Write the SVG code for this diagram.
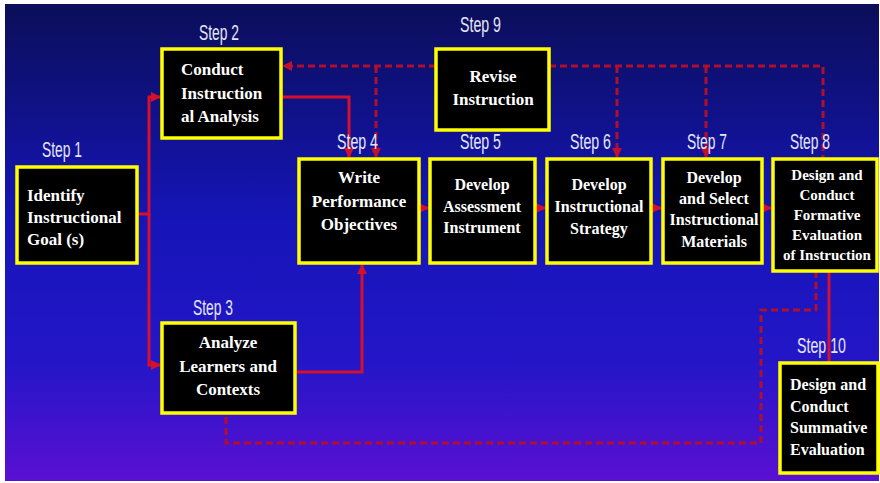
<svg xmlns="http://www.w3.org/2000/svg" width="880" height="483" viewBox="0 0 880 483">
<defs>
<linearGradient id="bg" x1="0" y1="0" x2="0" y2="1">
<stop offset="0" stop-color="#0b0e58"/>
<stop offset="0.45" stop-color="#1515b8"/>
<stop offset="0.75" stop-color="#2416c8"/>
<stop offset="1" stop-color="#5a10d2"/>
</linearGradient>
<marker id="ah" viewBox="0 0 10 10" refX="9" refY="5" markerWidth="10" markerHeight="10" markerUnits="userSpaceOnUse" orient="auto">
<path d="M0,0 L10,5 L0,10 z" fill="#d4102c"/>
</marker>
<marker id="ahd" viewBox="0 0 10 10" refX="9" refY="5" markerWidth="10" markerHeight="10" markerUnits="userSpaceOnUse" orient="auto">
<path d="M0,0 L10,5 L0,10 z" fill="#c0102c"/>
</marker>
</defs>
<style>
.box{fill:#000;stroke:#ffff00;stroke-width:3.5}
.t{fill:#fff;font-family:"Liberation Serif","Times New Roman",serif;font-weight:bold}
.c{text-anchor:middle}
.lbl{fill:#e4e6f6;font-family:"Liberation Sans",Arial,sans-serif;font-size:22px}
.s{fill:none;stroke:#d4102c;stroke-width:3}
.d{fill:none;stroke:#b00f2c;stroke-width:3;stroke-dasharray:7 4}
</style>
<rect x="0" y="0" width="880" height="483" fill="#fff"/>
<rect x="5" y="4" width="874" height="477" fill="url(#bg)"/>

<g id="connectors">
<path class="s" d="M137,214 H149 V97 H160" marker-end="url(#ah)"/>
<path class="s" d="M149,214 V365 H160" marker-end="url(#ah)"/>
<path class="s" d="M281,97 H349 V157" marker-end="url(#ah)"/>
<path class="s" d="M295,372 H362 V265" marker-end="url(#ah)"/>
<path class="s" d="M419,208 H428" marker-end="url(#ah)"/>
<path class="s" d="M535,208 H545" marker-end="url(#ah)"/>
<path class="s" d="M652,208 H661" marker-end="url(#ah)"/>
<path class="s" d="M762,208 H771" marker-end="url(#ah)"/>
<path class="s" d="M829,271 V363"/>
<path class="d" d="M436,66 H283" marker-end="url(#ahd)"/>
<path class="d" d="M376,66 V157" marker-end="url(#ahd)"/>
<path class="d" d="M549,66 H823 V159"/>
<path class="d" d="M617,66 V157" marker-end="url(#ahd)"/>
<path class="d" d="M706,66 V157" marker-end="url(#ahd)"/>
<path class="d" d="M816,271 V310 H761 V443 H226 V413"/>
</g>

<g id="step1">
<text class="lbl" x="42" y="157" textLength="40" lengthAdjust="spacingAndGlyphs">Step 1</text>
<rect class="box" x="17" y="167" width="120" height="96"/>
<text class="t" font-size="17" x="27" y="201">Identify</text>
<text class="t" font-size="17" x="27" y="223">Instructional</text>
<text class="t" font-size="17" x="27" y="245">Goal (s)</text>
</g>

<g id="step2">
<text class="lbl" x="199" y="40" textLength="40" lengthAdjust="spacingAndGlyphs">Step 2</text>
<rect class="box" x="162" y="49" width="119" height="89"/>
<text class="t" font-size="17" x="181" y="75">Conduct</text>
<text class="t" font-size="17" x="181" y="99">Instruction</text>
<text class="t" font-size="17" x="181" y="122">al Analysis</text>
</g>

<g id="step3">
<text class="lbl" x="193" y="315" textLength="40" lengthAdjust="spacingAndGlyphs">Step 3</text>
<rect class="box" x="162" y="323" width="133" height="90"/>
<text class="t c" font-size="17" x="228" y="348">Analyze</text>
<text class="t c" font-size="17" x="228" y="372">Learners and</text>
<text class="t c" font-size="17" x="228" y="395">Contexts</text>
</g>

<g id="step4">
<text class="lbl" x="337" y="149" textLength="41" lengthAdjust="spacingAndGlyphs">Step 4</text>
<rect class="box" x="299" y="159" width="120" height="104"/>
<text class="t c" font-size="17" x="359" y="183">Write</text>
<text class="t c" font-size="17" x="359" y="207">Performance</text>
<text class="t c" font-size="17" x="359" y="230">Objectives</text>
</g>

<g id="step5">
<text class="lbl" x="460" y="149" textLength="41" lengthAdjust="spacingAndGlyphs">Step 5</text>
<rect class="box" x="430" y="159" width="105" height="104"/>
<text class="t c" font-size="16" x="482" y="190">Develop</text>
<text class="t c" font-size="16" x="482" y="212">Assessment</text>
<text class="t c" font-size="16" x="482" y="233">Instrument</text>
</g>

<g id="step6">
<text class="lbl" x="570" y="149" textLength="41" lengthAdjust="spacingAndGlyphs">Step 6</text>
<rect class="box" x="547" y="159" width="104" height="104"/>
<text class="t c" font-size="16" x="599" y="190">Develop</text>
<text class="t c" font-size="16" x="599" y="212">Instructional</text>
<text class="t c" font-size="16" x="599" y="234">Strategy</text>
</g>

<g id="step7">
<text class="lbl" x="687" y="149" textLength="40" lengthAdjust="spacingAndGlyphs">Step 7</text>
<rect class="box" x="663" y="159" width="99" height="104"/>
<text class="t c" font-size="16" x="714" y="183">Develop</text>
<text class="t c" font-size="16" x="714" y="204">and Select</text>
<text class="t c" font-size="16" x="714" y="225">Instructional</text>
<text class="t c" font-size="16" x="714" y="247">Materials</text>
</g>

<g id="step8">
<text class="lbl" x="790" y="149" textLength="40" lengthAdjust="spacingAndGlyphs">Step 8</text>
<rect class="box" x="773" y="159" width="104" height="112"/>
<text class="t c" font-size="15" x="827" y="180">Design and</text>
<text class="t c" font-size="15" x="827" y="200">Conduct</text>
<text class="t c" font-size="15" x="827" y="220">Formative</text>
<text class="t c" font-size="15" x="827" y="240">Evaluation</text>
<text class="t c" font-size="15" x="827" y="260">of Instruction</text>
</g>

<g id="step9">
<text class="lbl" x="460" y="32" textLength="41" lengthAdjust="spacingAndGlyphs">Step 9</text>
<rect class="box" x="436" y="49" width="113" height="81"/>
<text class="t c" font-size="17" x="493" y="82">Revise</text>
<text class="t c" font-size="17" x="493" y="105">Instruction</text>
</g>

<g id="step10">
<text class="lbl" x="797" y="353" textLength="49" lengthAdjust="spacingAndGlyphs">Step 10</text>
<rect class="box" x="780" y="363" width="98" height="110"/>
<text class="t" font-size="16" x="790" y="390">Design and</text>
<text class="t" font-size="16" x="790" y="412">Conduct</text>
<text class="t" font-size="16" x="790" y="433">Summative</text>
<text class="t" font-size="16" x="790" y="455">Evaluation</text>
</g>
</svg>
